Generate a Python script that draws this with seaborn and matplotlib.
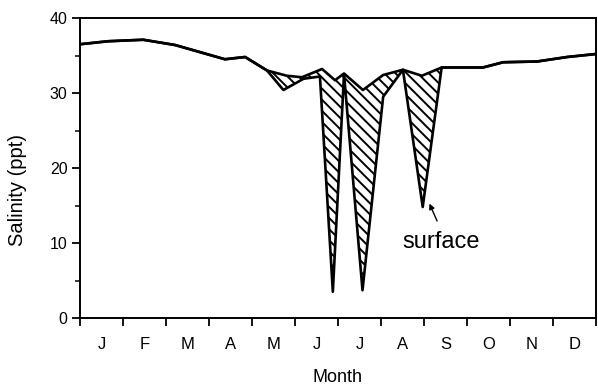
import matplotlib
matplotlib.use("Agg")
import matplotlib.pyplot as plt
import numpy as np
import pandas as pd
import seaborn as sns
from matplotlib.ticker import FixedLocator, NullFormatter, FixedFormatter

# ---- data (month position, salinity in ppt) ----
months = ["J", "F", "M", "A", "M", "J", "J", "A", "S", "O", "N", "D"]

common_head_m = [0.0, 0.65, 1.47, 2.21, 3.37, 3.84, 4.35]
common_head_v = [36.5, 36.9, 37.1, 36.4, 34.5, 34.8, 33.0]

bottom_mid_m = [4.81, 5.16, 5.63, 5.93, 6.14, 6.58, 7.05, 7.51, 7.95, 8.41]
bottom_mid_v = [32.3, 32.1, 33.2, 31.7, 32.6, 30.4, 32.4, 33.1, 32.3, 33.4]

surface_mid_m = [4.73, 5.20, 5.58, 5.88, 6.14, 6.57, 7.05, 7.51, 7.97, 8.41]
surface_mid_v = [30.4, 31.9, 32.2, 3.5, 32.5, 3.7, 29.5, 33.1, 14.8, 33.4]

common_tail_m = [9.37, 9.84, 10.63, 11.33, 12.0]
common_tail_v = [33.4, 34.1, 34.2, 34.8, 35.2]

y_major = [0, 10, 20, 30, 40]
y_minor = [5, 15, 25, 35]

# ---- build series ----
bottom_m = common_head_m + bottom_mid_m + common_tail_m
bottom_v = common_head_v + bottom_mid_v + common_tail_v
surface_m = common_head_m + surface_mid_m + common_tail_m
surface_v = common_head_v + surface_mid_v + common_tail_v

df = pd.DataFrame({
    "month": bottom_m + surface_m,
    "salinity": bottom_v + surface_v,
    "series": ["bottom"] * len(bottom_m) + ["surface"] * len(surface_m),
})

sns.set_theme(style="ticks")
plt.rcParams["font.family"] = ["Liberation Sans", "DejaVu Sans"]
plt.rcParams["hatch.linewidth"] = 1.4

fig = plt.figure(figsize=(5.98, 3.85), dpi=100)
ax = fig.add_axes([80 / 598, 1 - 318 / 385, 516 / 598, 300 / 385])

# hatched area between bottom and surface lines (divergent section)
poly_top_m = [common_head_m[-1]] + bottom_mid_m
poly_top_v = [common_head_v[-1]] + bottom_mid_v
poly_bot_m = [common_head_m[-1]] + surface_mid_m
poly_bot_v = [common_head_v[-1]] + surface_mid_v
ax.fill(poly_top_m + poly_bot_m[::-1], poly_top_v + poly_bot_v[::-1],
        facecolor="white", edgecolor="black", linewidth=0, hatch="\\\\\\", zorder=1)

sns.lineplot(data=df, x="month", y="salinity", units="series", estimator=None,
             sort=False, color="black", linewidth=1.9, ax=ax, zorder=3)

ax.set_xlim(0, 12)
ax.set_ylim(0, 40)

ax.xaxis.set_major_locator(FixedLocator(np.arange(0, 13)))
ax.xaxis.set_major_formatter(NullFormatter())
ax.xaxis.set_minor_locator(FixedLocator(np.arange(12) + 0.5))
ax.xaxis.set_minor_formatter(FixedFormatter(months))
ax.yaxis.set_major_locator(FixedLocator(y_major))
ax.yaxis.set_minor_locator(FixedLocator(y_minor))

ax.tick_params(axis="x", which="major", direction="out", length=6, width=1.3, color="black")
ax.tick_params(axis="x", which="minor", length=0, pad=14, labelsize=12, labelcolor="black")
ax.tick_params(axis="y", which="major", direction="out", length=6, width=1.3,
               color="black", labelsize=11.5, labelcolor="black", pad=3)
ax.tick_params(axis="y", which="minor", direction="out", length=3.5, width=1.1, color="black")

for side in ["left", "right", "top", "bottom"]:
    ax.spines[side].set_visible(True)
    ax.spines[side].set_color("black")
    ax.spines[side].set_linewidth(1.4)

ax.set_xlabel("Month", fontsize=13, color="black", labelpad=12)
ax.set_ylabel("Salinity (ppt)", fontsize=14.5, color="black")
ax.yaxis.set_label_coords(-0.103, 0.427)

leg = ax.get_legend()
if leg is not None:
    leg.remove()

ax.annotate("", xy=(8.10, 15.6), xytext=(8.33, 12.6),
            arrowprops=dict(arrowstyle="-|>", color="black", lw=1.0, mutation_scale=8))
ax.text(8.40, 9.3, "surface", ha="center", va="baseline", fontsize=17, color="black")

fig.savefig("out.png", dpi=100)
